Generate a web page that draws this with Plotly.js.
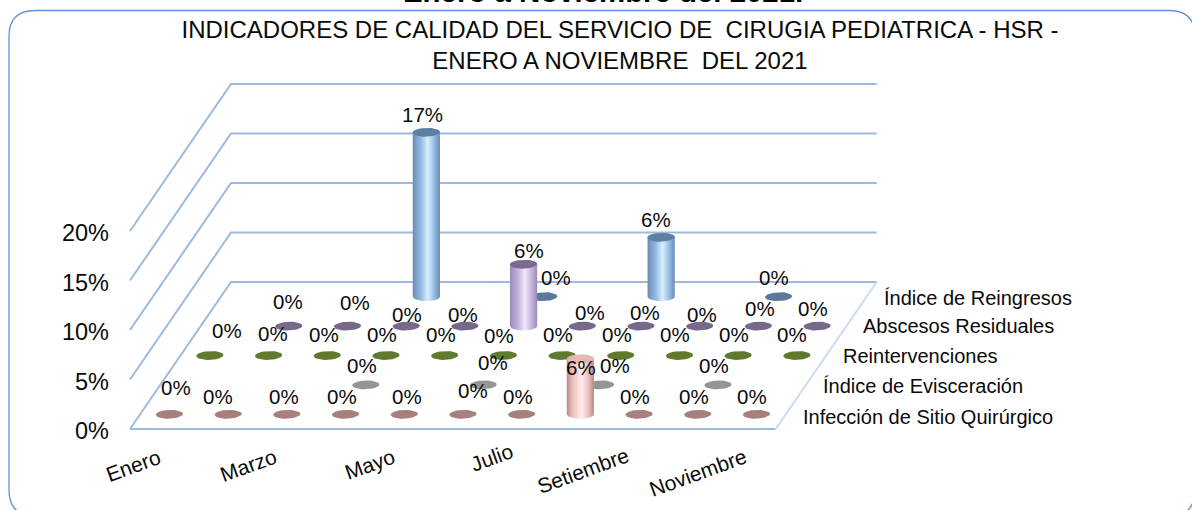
<!DOCTYPE html>
<html><head><meta charset="utf-8">
<script src="https://cdn.plot.ly/plotly-3.0.1.min.js"></script>
<style>html,body{margin:0;padding:0;background:#fff}#c{width:1192px;height:510px}</style>
</head><body><div id="c"></div>
<script>
// ---------- data (percent, null = no point) ----------
const months = ["Enero","Febrero","Marzo","Abril","Mayo","Junio","Julio","Agosto","Setiembre","Octubre","Noviembre"];
const shownMonths = ["Enero","Marzo","Mayo","Julio","Setiembre","Noviembre"];
const seriesNames = ["Infección de Sitio Quirúrgico","Índice de Evisceración","Reintervenciones","Abscesos Residuales","Índice de Reingresos"];
const infeccion      = [0,0,0,0,0,0,0,5.6,0,0,0];
const evisceracion   = [null,null,null,0,null,0,null,0,null,0,null];
const reintervencion = [0,0,0,0,0,0,0,0,0,0,0];
const abscesos       = [null,0,0,0,0,6.25,0,0,0,0,0];
const reingresos     = [null,null,null,16.6,null,0,null,6,null,0,null];
const valueTicks = [0,5,10,15,20];
const allSeries = [infeccion,evisceracion,reintervencion,abscesos,reingresos];

// ---------- styling ----------
const FONT = "Liberation Sans, Arial, sans-serif";
const INK = "#0a0a0a";
const zeroColors = ["#a5807c","#959595","#5f7a2c","#78688a","#5b7a9b"];
const topColors  = ["#e6b8b4","#959595","#5f7a2c","#7a6a8e","#5f7fa3"];
const sideScales = [
  [[0,"#b98a88"],[0.2,"#e9bdb9"],[0.55,"#ffeeec"],[0.8,"#e9bdb9"],[1,"#b98a88"]],
  [[0,"#888"],[1,"#aaa"]],
  [[0,"#5f7a2c"],[1,"#7f9a3c"]],
  [[0,"#9a8ab5"],[0.3,"#c2b2dc"],[0.55,"#f2e8fb"],[0.8,"#c2b2dc"],[1,"#9a8ab5"]],
  [[0,"#6a8cb5"],[0.3,"#93b9e3"],[0.55,"#d8f0ff"],[0.8,"#93b9e3"],[1,"#6a8cb5"]]
];
// label nudges in px (dx, dy up is negative) next to each point
const nudge = [
  [[6.5,-27],[-10,-18],[-3,-18],[-4,-18],[3,-18],[10,-24],[-4,-18],[1,9],[-4,-18],[-4,-18],[-4,-18]],
  [null,null,null,[-4,-19],null,[10,-22],null,[14,-19],null,[-4,-19],null],
  [[17,-25],[4,-22],[-3,-21],[-4,-21],[-4,-21],[-4,-20],[-4,-21],[-4,-21],[-4,-21],[-4,-21],[-5,-21]],
  [null,[-1,-25],[8,-24],[1,-12],[-2,-12],[5,-14],[8,-14],[4,-14],[2,-12],[2,-18],[-4,-18]],
  [null,null,null,[-4,-18],null,[12,-19],null,[-5,-18],null,[-5,-19],null]
];
const catNudge = {"Enero":[-26,36],"Marzo":[-29,36],"Mayo":[-25,35],"Julio":[-20,28],"Setiembre":[-46,41],"Noviembre":[-48,43]};
const depthLabelDy = [3,1,0,0,1.5];

// ---------- oblique projection onto the 2D axes ----------
const W=1192,H=510,L=110;
const monthPx=58.7,pctPx=9.9,x0=130,y0=429,shiftX=101,shiftY=147,n=months.length;
const xr=[(L-x0)/monthPx,(W-x0)/monthPx], yr=[(y0-H)/pctPx,y0/pctPx];
function P(mPos,depth,v,dx=0,dy=0){ // mPos in months, depth 0..1, v in percent
  return [mPos+depth*shiftX/monthPx+dx/monthPx, v+depth*shiftY/pctPx-dy/pctPx];
}
const traces=[];
function line(pts,color,width){
  traces.push({type:"scatter",mode:"lines",x:pts.map(p=>p[0]),y:pts.map(p=>p[1]),
    line:{color,width},hoverinfo:"skip",showlegend:false});
}
// grid walls
valueTicks.forEach(t=>{
  line([P(0,0,t),P(0,1,t),P(n,1,t)],"#9db9dd",2);
});
line([P(0,0,0),P(n,0,0)],"#9db9dd",2.2);
line([P(n,0,0),P(n,1,0)],"#c9dbf2",2);

const rx=13.6,ry=4.4,tilt=0.035,STEPS=40;
function ell(m,d,v){
  const a=[];
  for(let i=0;i<=STEPS;i++){const t=2*Math.PI*i/STEPS,dx=rx*Math.cos(t);
    a.push(P(m,d,v,dx,ry*Math.sin(t)-tilt*dx));}
  return a;
}
function poly(pts,extra){
  traces.push(Object.assign({type:"scatter",mode:"lines",x:pts.map(p=>p[0]),y:pts.map(p=>p[1]),
    fill:"toself",line:{width:0,color:"rgba(0,0,0,0)"},hoverinfo:"skip",showlegend:false},extra));
}
const ann=[];
for(let s=4;s>=0;s--){
  const d=(s+.5)/5;
  allSeries[s].forEach((v,m)=>{
    if(v===null) return;
    const mp=m+.5;
    if(v===0){
      poly(ell(mp,d,0),{fillcolor:zeroColors[s]});
    }else{
      const body=[];
      for(let i=0;i<=STEPS/2;i++){const t=Math.PI*i/(STEPS/2),dx=rx*Math.cos(t);body.push(P(mp,d,0,dx,ry*Math.sin(t)));}
      for(let i=0;i<=STEPS/2;i++){const t=Math.PI-Math.PI*i/(STEPS/2),dx=rx*Math.cos(t);body.push(P(mp,d,v,dx,-ry*Math.sin(t)));}
      body.push(body[0]);
      poly(body,{fillgradient:{type:"horizontal",colorscale:sideScales[s]}});
      poly(ell(mp,d,v),{fillcolor:topColors[s]});
    }
    const [ndx,ndy]=nudge[s][m];
    const q=P(mp,d,v,ndx,ndy);
    ann.push({x:q[0],y:q[1],xref:"x",yref:"y",text:Math.round(v)+"%",showarrow:false,
      font:{family:FONT,size:20.5,color:INK},xanchor:"center",yanchor:"middle"});
  });
}
// depth-axis labels
seriesNames.forEach((nm,s)=>{
  const q=P(n,(s+.5)/5,0,15,depthLabelDy[s]);
  ann.push({x:q[0],y:q[1],xref:"x",yref:"y",text:nm,showarrow:false,xanchor:"left",yanchor:"middle",
    font:{family:FONT,size:20,color:INK}});
});
// category labels
shownMonths.forEach(nm=>{
  const m=months.indexOf(nm),[dx,dy]=catNudge[nm];
  const q=P(m+.5,0,0,dx,dy);
  ann.push({x:q[0],y:q[1],xref:"x",yref:"y",text:nm,showarrow:false,textangle:-20,xanchor:"center",yanchor:"middle",
    font:{family:FONT,size:21,color:INK}});
});
// clipped outer heading
const px=x=>(x-L)/(W-L), py=y=>1-y/H;
ann.push({xref:"paper",yref:"paper",x:px(602.5),y:1,yanchor:"bottom",xanchor:"center",yshift:-10,showarrow:false,
  text:"<b>Enero a Noviembre del 2021.</b>",font:{family:FONT,size:29.4,color:"#000"}});

// rounded frame
const fL=9,fT=10.5,fR=1195,fB=516,r=26;
const frame=`M ${px(fL)} ${py(fT+r)} Q ${px(fL)} ${py(fT)} ${px(fL+r)} ${py(fT)} L ${px(fR-r)} ${py(fT)} Q ${px(fR)} ${py(fT)} ${px(fR)} ${py(fT+r)} L ${px(fR)} ${py(fB-r)} Q ${px(fR)} ${py(fB)} ${px(fR-r)} ${py(fB)} L ${px(fL+r)} ${py(fB)} Q ${px(fL)} ${py(fB)} ${px(fL)} ${py(fB-r)} Z`;

const layout={
  width:W,height:H,margin:{l:L,r:0,t:0,b:0},paper_bgcolor:"#fff",plot_bgcolor:"rgba(0,0,0,0)",showlegend:false,
  title:{text:"INDICADORES DE CALIDAD DEL SERVICIO DE\u00a0 CIRUGIA PEDIATRICA - HSR -<br>ENERO A NOVIEMBRE\u00a0 DEL 2021",
    font:{family:FONT,size:24,color:INK},x:620/W,xanchor:"center",y:1-38/H,yanchor:"middle",automargin:false},
  xaxis:{range:xr,visible:false,fixedrange:true},
  yaxis:{range:yr,tickvals:valueTicks,ticktext:valueTicks.map(t=>t+"%"),showgrid:false,zeroline:false,showline:false,
    ticks:"",ticklabelshift:2,tickfont:{family:FONT,size:23.5,color:INK},fixedrange:true},
  shapes:[{type:"path",xref:"paper",yref:"paper",path:frame,line:{color:"#5b93dc",width:1.3},layer:"below"}],
  annotations:ann
};
Plotly.newPlot("c",traces,layout,{displayModeBar:false,staticPlot:true});
</script></body></html>
